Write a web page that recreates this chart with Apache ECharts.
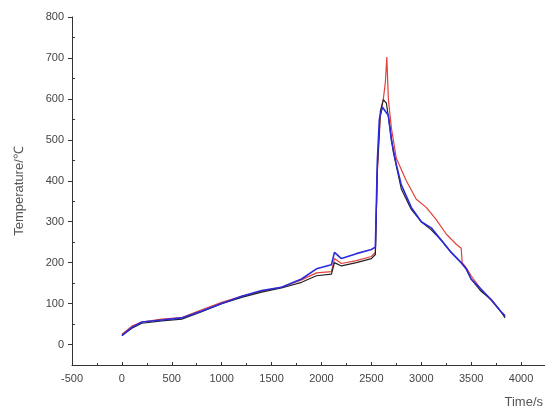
<!DOCTYPE html>
<html lang="en">
<head>
  <meta charset="UTF-8">
  <title>Temperature vs Time</title>
  <script src="https://cdn.jsdelivr.net/npm/echarts@6/dist/echarts.min.js"></script>
  <style>
    body { margin: 0; background: #fff; }
    #chart { width: 545px; height: 417px; }
  </style>
</head>
<body>
<div id="chart"></div>
<script>
  // curve data (time in s, temperature in ℃)
  var redTime  = [0, 100, 200, 400, 600, 800, 1000, 1200, 1400, 1600, 1800, 1950, 2100, 2130, 2200, 2350, 2500, 2540, 2560, 2590, 2620, 2640, 2655, 2670, 2700, 2750, 2850, 2950, 3050, 3150, 3250, 3350, 3400, 3410, 3450, 3500, 3600, 3700, 3800, 3840];
  var redTemp  = [25, 45, 55, 62, 66, 85, 103, 118, 130, 140, 158, 175, 178, 210, 198, 205, 215, 225, 420, 560, 600, 640, 702, 600, 530, 455, 400, 355, 335, 305, 270, 245, 235, 200, 188, 168, 135, 108, 80, 68];

  var blackTime = [0, 100, 200, 400, 600, 800, 1000, 1200, 1400, 1600, 1800, 1950, 2100, 2130, 2200, 2350, 2500, 2540, 2560, 2590, 2620, 2650, 2680, 2720, 2800, 2900, 3000, 3100, 3200, 3300, 3400, 3450, 3500, 3600, 3700, 3800, 3840];
  var blackTemp = [22, 40, 52, 58, 62, 80, 100, 115, 128, 138, 152, 168, 172, 200, 192, 200, 210, 220, 430, 570, 598, 590, 540, 470, 380, 330, 300, 280, 255, 225, 200, 185, 160, 130, 110, 80, 65];

  var blueTime = [0, 100, 200, 400, 600, 800, 1000, 1200, 1400, 1600, 1800, 1950, 2100, 2130, 2200, 2350, 2500, 2540, 2560, 2580, 2610, 2640, 2670, 2700, 2750, 2800, 2900, 3000, 3100, 3200, 3300, 3400, 3450, 3500, 3600, 3700, 3800, 3840];
  var blueTemp = [22, 42, 55, 60, 65, 82, 100, 118, 132, 140, 160, 185, 195, 225, 210, 222, 232, 238, 450, 550, 580, 570, 560, 500, 440, 390, 335, 300, 285, 255, 225, 200, 185, 160, 135, 110, 80, 70];

  // y tick labels / major ticks and the minor ticks between them
  var yMajor = [0, 100, 200, 300, 400, 500, 600, 700, 800];
  var yMinor = [-50, 50, 150, 250, 350, 450, 550, 650, 750];

  function pairs(t, v) {
    return t.map(function (x, i) { return [x, v[i]]; });
  }

  var chart = echarts.init(document.getElementById('chart'));

  var axisColor = '#333';
  var labelStyle = { color: '#444', fontSize: 11, fontFamily: 'Liberation Sans, Arial, sans-serif' };

  chart.setOption({
    animation: false,
    grid: { left: 72, top: 17, right: 0, bottom: 52 },
    xAxis: {
      type: 'value',
      min: -500,
      max: 4240,
      interval: 500,
      axisLine: { onZero: false, lineStyle: { color: axisColor } },
      axisTick: { inside: true, length: 3, lineStyle: { color: axisColor } },
      minorTick: { show: true, splitNumber: 2, length: 2, lineStyle: { color: axisColor } },
      axisLabel: Object.assign({
        margin: 8,
        showMaxLabel: false,
        formatter: function (v) { return String(v); }
      }, labelStyle),
      splitLine: { show: false }
    },
    yAxis: [
      {
        type: 'value',
        min: -50,
        max: 800,
        interval: 50,
        name: 'Temperature/\u2103',
        nameLocation: 'middle',
        nameGap: 46,
        nameTextStyle: { color: '#555', fontSize: 13, fontFamily: 'Liberation Sans, Arial, sans-serif' },
        axisLine: { show: true, onZero: false, lineStyle: { color: axisColor } },
        axisTick: { show: true, length: 4, customValues: yMajor, lineStyle: { color: axisColor } },
        axisLabel: Object.assign({
          margin: 8,
          customValues: yMajor,
          formatter: function (v) { return v % 100 === 0 ? String(v) : ''; }
        }, labelStyle),
        splitLine: { show: false }
      },
      {
        // second copy of the same scale, only for the inward minor ticks
        type: 'value',
        position: 'left',
        min: -50,
        max: 800,
        interval: 50,
        axisLine: { show: false, onZero: false },
        axisTick: { show: true, inside: true, length: 3, customValues: yMinor, lineStyle: { color: axisColor } },
        axisLabel: { show: false },
        splitLine: { show: false }
      }
    ],
    graphic: [{
      type: 'text',
      right: 2,
      top: 396,
      style: { text: 'Time/s', fill: '#555', fontSize: 13, fontFamily: 'Liberation Sans, Arial, sans-serif' }
    }],
    series: [
      {
        type: 'line', data: pairs(redTime, redTemp), showSymbol: false,
        lineStyle: { color: '#e2403a', width: 1.2 }
      },
      {
        type: 'line', data: pairs(blackTime, blackTemp), showSymbol: false,
        lineStyle: { color: '#222', width: 1.2 }
      },
      {
        type: 'line', data: pairs(blueTime, blueTemp), showSymbol: false,
        lineStyle: { color: '#2b2bdc', width: 1.6 }
      }
    ]
  });
</script>
</body>
</html>
